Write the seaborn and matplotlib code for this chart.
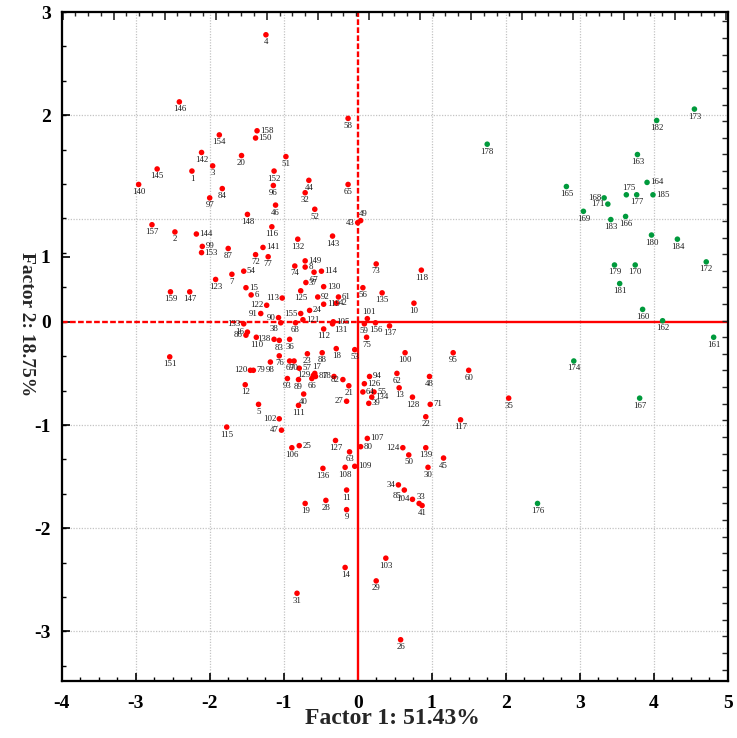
import numpy as np
import pandas as pd
import matplotlib
matplotlib.use("Agg")
import matplotlib.pyplot as plt
import seaborn as sns

# --- data (factor scores) ---
red_ids = list(range(1, 160))
red_x = [-2.24, -2.47, -1.96, -1.24, -1.34, -1.44, -1.70, -0.71, -0.15, 0.76,
         -0.15, -1.52, 0.56, -0.17, -1.51, -1.49, -0.58, -0.29, -0.71, -1.57,
         -0.12, 0.92, -0.68, -0.65, -0.79, 0.58, -0.15, -0.43, 0.25, 0.95,
         -0.82, -0.71, 0.83, 0.55, 2.04, -0.92, -0.70, -1.04, 0.15, -0.73,
         0.87, -0.29, 0.00, -0.66, 1.16, -1.11, -1.03, 0.97, 0.04, 0.69,
         -0.97, -0.58, -0.04, -1.54, 0.22, 0.07, -0.79, -0.13, 0.09, 1.50,
         -0.26, 0.53, -0.11, 0.07, -0.13, -0.62, -0.59, -0.84, -0.92, -0.86,
         0.98, -1.38, 0.25, -0.85, 0.12, -1.06, -1.21, -0.32, -1.41, 0.04,
         -0.57, -0.20, -1.06, -1.83, 0.63, -1.51, -1.75, -0.48, -0.80, -1.07,
         -1.31, -0.54, -0.95, 0.16, 1.29, -1.14, -2.00, -1.18, -2.10, 0.64,
         0.13, -1.06, 0.38, 0.74, -0.33, -0.89, 0.13, -0.17, -0.04, -1.37,
         -0.80, -0.46, -1.02, -0.49, -1.77, -1.16, 1.39, 0.86, -0.46, -1.45,
         -0.74, -1.23, -1.92, 0.61, -0.77, 0.09, -0.30, 0.74, -0.60, -0.46,
         -0.34, -0.81, -1.54, 0.19, 0.33, -0.47, 0.43, -1.13, 0.92, -2.96,
         -1.28, -2.11, -0.34, -2.18, -2.71, -2.41, -2.27, -1.49, -0.71, -1.38,
         -2.54, -1.13, -2.11, -1.87, -0.77, 0.24, -2.78, -1.36, -2.53]
red_y = [1.46, 0.87, 1.51, 2.78, -0.80, 0.26, 0.46, 0.53, -1.82, 0.18,
         -1.63, -0.61, -0.64, -2.38, 0.33, -0.10, -0.50, -0.26, -1.76, 1.61,
         -0.62, -0.92, -0.31, 0.11, -1.20, -3.08, -0.77, -1.73, -2.51, -1.41,
         -2.63, 1.25, -1.76, -1.58, -0.74, -0.17, 0.38, -0.01, -0.79, -0.70,
         -1.78, 0.18, 0.96, 1.37, -1.32, 1.13, -1.05, -0.53, 0.98, -1.29,
         1.60, 1.09, -0.27, 0.49, -0.68, 0.33, -0.45, 1.97, -0.02, -0.47,
         0.24, -0.50, -1.26, -0.68, 1.33, -0.55, 0.48, -0.01, -0.38, -0.38,
         -0.80, 0.65, 0.56, 0.54, -0.15, -0.33, 0.63, -0.53, -0.47, -1.21,
         -0.53, -0.56, -0.18, 1.29, -1.63, -0.13, 0.71, -0.30, -0.56, 0.04,
         0.08, 0.24, -0.55, -0.53, -0.30, 1.32, 1.20, -0.39, 0.73, -0.30,
         0.03, -0.94, -2.29, -1.72, 0.00, -1.22, -1.13, -1.41, -1.40, -0.15,
         -0.81, -0.07, 0.23, 0.49, -1.02, 0.92, -0.95, 0.50, 0.17, -0.47,
         0.02, 0.16, 0.41, -1.22, 0.30, -0.60, -1.15, -0.73, -0.52, 0.34,
         -0.02, 0.80, -0.02, -0.73, 0.28, -1.42, -0.04, -0.17, -1.22, 1.33,
         0.72, 1.64, 0.83, 0.85, 1.48, 2.13, 0.29, 1.04, 0.59, 1.78,
         -0.34, 1.46, 0.67, 1.81, 0.08, -0.01, 0.94, 1.85, 0.29]

green_ids = list(range(160, 186))
green_x = [3.85, 4.81, 4.12, 3.78, 3.91, 2.82, 3.62, 3.81, 3.33, 3.05,
           3.75, 3.38, 4.71, 4.55, 2.92, 3.63, 2.43, 3.77, 1.75, 3.47,
           3.97, 3.54, 4.04, 3.42, 4.32, 3.99]
green_y = [0.12, -0.15, 0.01, 1.62, 1.35, 1.31, 1.02, -0.74, 1.20, 1.07,
           0.55, 1.14, 0.58, 2.06, -0.38, 1.23, -1.76, 1.23, 1.72, 0.55,
           0.84, 0.37, 1.95, 0.99, 0.80, 1.23]

x_ticks = [-4, -3, -2, -1, 0, 1, 2, 3, 4, 5]
y_tick_labels = ["-3", "-2", "-1", "0", "1", "2", "3"]

# label placement around the dots (default: below)
label_side = {}
for k in [158, 150, 144, 99, 153, 54, 141, 149, 8, 114, 37, 130, 15, 6, 92, 61,
          42, 119, 24, 105, 94, 126, 64, 55, 134, 39, 71, 107, 80, 109,
          25, 164, 185, 79, 57, 81, 121]:
    label_side[k] = "r"
for k in [133, 16, 86, 120, 91, 122, 113, 90, 43, 78, 82, 27, 102, 47, 124,
          34, 104, 168, 171, 155, 129, 138]:
    label_side[k] = "l"
for k in [101, 175, 49, 33, 17]:
    label_side[k] = "a"
for k in [85, 38]:
    label_side[k] = "bl"
label_side[131] = "br"

df = pd.DataFrame({
    "id": red_ids + green_ids,
    "f1": red_x + green_x,
    "f2": red_y + green_y,
    "grp": ["a"] * len(red_ids) + ["b"] * len(green_ids),
})

sns.set_theme(style="white")
plt.rcParams["font.family"] = ["Liberation Serif", "DejaVu Serif"]
plt.rcParams["axes.unicode_minus"] = False

fig = plt.figure(figsize=(7.37, 7.38), dpi=100)
ax = fig.add_axes([0.0837, 0.0772, 0.9037, 0.9065])
xlim = (-4, 5)
ylim = (-3.48, 3.0)

# grid
for g in [-3, -2, -1, 1, 2, 3, 4]:
    ax.axvline(g, color="#c4c4c4", lw=0.9, ls=(0, (1, 1.2)), zorder=0)
for g in [-3, -2, -1, 1, 2]:
    ax.axhline(g, color="#c4c4c4", lw=0.9, ls=(0, (1, 1.2)), zorder=0)

# origin lines: dashed on the negative-x / positive-y sides
y0 = (0 - ylim[0]) / (ylim[1] - ylim[0])
x0 = (0 - xlim[0]) / (xlim[1] - xlim[0])
ax.axvline(0, ymin=y0, ymax=1, color="red", lw=1.7, ls=(0, (2.4, 1.0)), zorder=1)
ax.axvline(0, ymin=0, ymax=y0, color="red", lw=1.7, zorder=1)
ax.axhline(0, xmin=0, xmax=x0, color="red", lw=1.7, ls=(0, (2.4, 1.0)), zorder=1)
ax.axhline(0, xmin=x0, xmax=1, color="red", lw=1.7, zorder=1)

sns.scatterplot(data=df, x="f1", y="f2", hue="grp",
                palette={"a": "#ff0000", "b": "#009a3c"},
                s=16, linewidth=0, legend=False, ax=ax, zorder=3)

offsets = {"b": ((0, -2.5), "center", "top"),
           "r": ((2.2, 0), "left", "center"),
           "l": ((-2.2, 0), "right", "center"),
           "a": ((1.5, 2.0), "center", "bottom"),
           "bl": ((-2.0, -1.5), "right", "top"),
           "br": ((1.0, -1.5), "left", "top")}
for pid, px, py in zip(df["id"], df["f1"], df["f2"]):
    off, ha, va = offsets[label_side.get(pid, "b")]
    ax.annotate(str(pid), (px, py), xytext=off, textcoords="offset points",
                fontsize=6.3, ha=ha, va=va, color="#1a1a1a", zorder=4)

ax.set_xlim(xlim)
ax.set_ylim(ylim)

ax.set_xticks(x_ticks)
ax.set_xticklabels([str(t) for t in x_ticks], fontsize=14, fontweight="bold")
ax.set_xticks(np.arange(-4, 5.01, 0.25), minor=True)
ax.set_yticks([-3, -2, -1, 0, 0.63, 2, 3])
ax.set_yticklabels(y_tick_labels, fontsize=14, fontweight="bold")
ax.set_yticks(np.arange(-3.333, 3.01, 1 / 3), minor=True)
ax.tick_params(which="major", direction="in", length=6, width=1.2, colors="black")
ax.tick_params(which="minor", direction="in", length=3, width=1.0, colors="black")
ax.tick_params(axis="x", which="major", pad=10)
ax.tick_params(axis="y", which="major", pad=8)

# secondary tick scales on top and right
top = ax.twiny()
top.set_xlim(xlim)
top.set_xticks([t for t in -1.229 + 0.69 * np.arange(-4, 10) if xlim[0] < t < xlim[1]])
top.set_xticks([t for t in -1.229 + 0.1725 * np.arange(-16, 40) if xlim[0] < t < xlim[1]], minor=True)
top.tick_params(which="major", direction="in", length=6, width=1.2, labeltop=False)
top.tick_params(which="minor", direction="in", length=3, width=1.0)
right = ax.twinx()
right.set_ylim(ylim)
right.set_yticks([t for t in -0.15 + 0.161 * np.arange(-25, 25) if ylim[0] < t < ylim[1]])
right.tick_params(direction="in", length=4, width=1.0, labelright=False)
for a in (ax, top, right):
    for s in a.spines.values():
        s.set_color("black")
        s.set_linewidth(1.5)

ax.set_xlabel("")
ax.set_ylabel("")
fig.text(0.532, 0.012, "Factor 1: 51.43%", fontsize=17, fontweight="bold",
         ha="center", va="bottom")
fig.text(0.036, 1 - 324 / 738, "Factor 2: 18.75%", fontsize=14, fontweight="bold",
         rotation=-90, ha="center", va="center")

fig.savefig("out.png", dpi=100)
